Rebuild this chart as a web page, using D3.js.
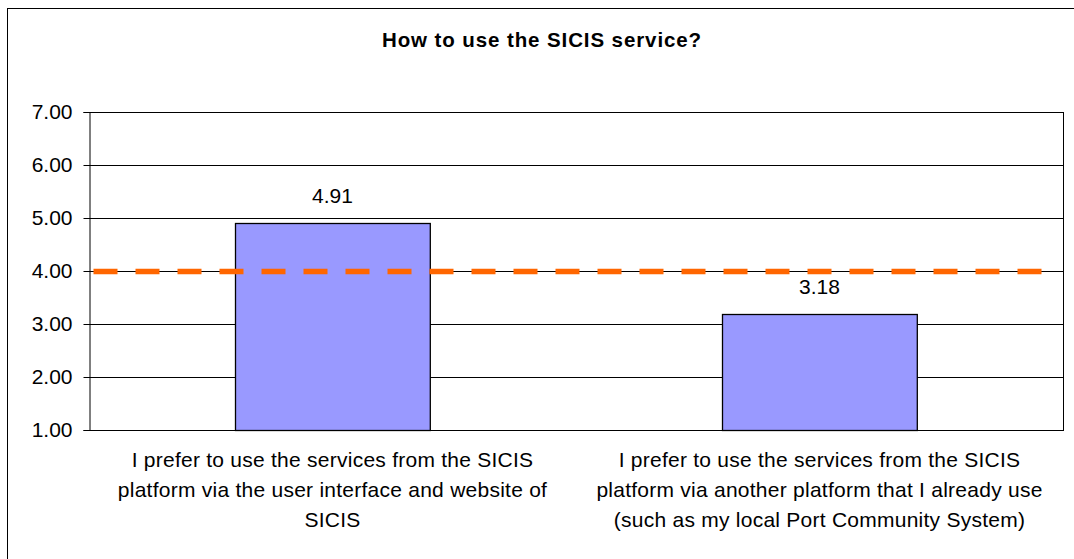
<!DOCTYPE html>
<html>
<head>
<meta charset="utf-8">
<script src="https://cdn.jsdelivr.net/npm/d3@7"></script>
<style>
  html, body { margin: 0; padding: 0; background: #fff; }
  svg { display: block; font-family: "Liberation Sans", Arial, sans-serif; }
</style>
</head>
<body>
<svg id="chart" width="1074" height="559"></svg>
<script>
const title = "How to use the SICIS service?";
const categories = [
  ["I prefer to use the services from the SICIS", "platform via the user interface and website of", "SICIS"],
  ["I prefer to use the services from the SICIS", "platform via another platform that I already use", "(such as my local Port Community System)"]
];
const values = [4.91, 3.18];
const valueLabels = ["4.91", "3.18"];
const referenceValue = 4;
const yTicks = [1, 2, 3, 4, 5, 6, 7];
const yDomain = [1, 7];

const svg = d3.select("#chart");
const W = 1074, H = 559;
const margin = { left: 89, right: 1074 - 1063, top: 112, bottom: 559 - 430 };

// outer frame (extends past the visible area on right and bottom)
svg.append("rect")
  .attr("x", 7.5).attr("y", 8.5)
  .attr("width", 1100).attr("height", 600)
  .attr("fill", "none").attr("stroke", "#000").attr("stroke-width", 1);

const x = d3.scaleBand()
  .domain(d3.range(categories.length))
  .range([margin.left, W - margin.right])
  .paddingInner(0.6)
  .paddingOuter(0.3);

const y = d3.scaleLinear().domain(yDomain).range([H - margin.bottom, margin.top]);

// title
svg.append("text")
  .attr("x", 542).attr("y", 47)
  .attr("text-anchor", "middle")
  .attr("font-size", "20.5px").attr("font-weight", "bold")
  .attr("letter-spacing", "0.9px")
  .attr("fill", "#000")
  .text(title);

// gridlines
svg.append("g")
  .selectAll("line")
  .data(yTicks)
  .join("line")
  .attr("x1", margin.left).attr("x2", W - margin.right)
  .attr("y1", d => Math.round(y(d)) + 0.5).attr("y2", d => Math.round(y(d)) + 0.5)
  .attr("stroke", "#000").attr("stroke-width", 1);

// right border of plot
svg.append("line")
  .attr("x1", W - margin.right + 0.5).attr("x2", W - margin.right + 0.5)
  .attr("y1", margin.top).attr("y2", H - margin.bottom + 1)
  .attr("stroke", "#000");

// y axis
const yAxis = d3.axisLeft(y).tickValues(yTicks).tickFormat(d3.format(".2f")).tickSizeOuter(0).tickSize(6).tickPadding(11);
const gy = svg.append("g")
  .attr("transform", `translate(${margin.left + 0.5},0)`)
  .call(yAxis);
gy.selectAll("text").attr("font-size", "21px").attr("fill", "#000")
  .attr("font-family", '"Liberation Sans", Arial, sans-serif');
gy.selectAll("line").attr("stroke", "#000");
gy.select(".domain").attr("stroke", "#000");

// bars
svg.append("g")
  .selectAll("rect")
  .data(values)
  .join("rect")
  .attr("x", (d, i) => Math.round(x(i)) + 0.5)
  .attr("y", d => Math.round(y(d)) + 0.5)
  .attr("width", x.bandwidth())
  .attr("height", d => Math.round(y(yDomain[0])) - Math.round(y(d)))
  .attr("fill", "#9999FF")
  .attr("stroke", "#000").attr("stroke-width", 1.3);

// value labels
svg.append("g")
  .selectAll("text")
  .data(values)
  .join("text")
  .attr("x", (d, i) => x(i) + x.bandwidth() / 2)
  .attr("y", d => y(d) - 20)
  .attr("text-anchor", "middle")
  .attr("font-size", "21px").attr("fill", "#000")
  .text((d, i) => valueLabels[i]);

// reference dashed line
svg.append("line")
  .attr("x1", margin.left + 0.5).attr("x2", W - margin.right - 5)
  .attr("y1", y(referenceValue) + 0.5).attr("y2", y(referenceValue) + 0.5)
  .attr("stroke", "#FF6600").attr("stroke-width", 5.5)
  .attr("stroke-dasharray", "24,18")
  .attr("stroke-dashoffset", 38);

// category labels
const cat = svg.append("g")
  .selectAll("text")
  .data(categories)
  .join("text")
  .attr("text-anchor", "middle")
  .attr("font-size", "21px")
  .attr("letter-spacing", "0.25px")
  .attr("fill", "#000");
cat.each(function(lines, i) {
  const t = d3.select(this);
  lines.forEach((ln, j) => {
    t.append("tspan")
      .attr("x", x(i) + x.bandwidth() / 2)
      .attr("y", 467 + j * 30)
      .text(ln);
  });
});
</script>
</body>
</html>
